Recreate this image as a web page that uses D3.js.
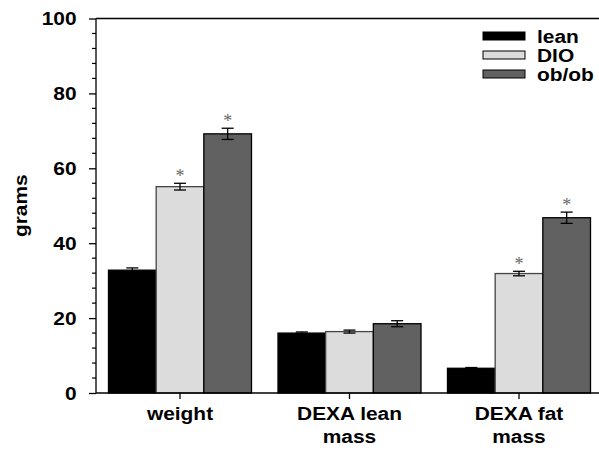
<!DOCTYPE html>
<html>
<head>
<meta charset="utf-8">
<script src="https://cdn.jsdelivr.net/npm/d3@7"></script>
<style>
  body { margin: 0; background: #fff; }
  text { font-family: Arial, "Liberation Sans", sans-serif; font-weight: bold; }
</style>
</head>
<body>
<div id="chart"></div>
<script>
// categories and series
var categories = [["weight"], ["DEXA lean", "mass"], ["DEXA fat", "mass"]];
var seriesNames = ["lean", "DIO", "ob/ob"];
var seriesColors = ["#000000", "#dcdcdc", "#616161"];
var leanValues = [32.8, 16.0, 6.6];
var dioValues = [55.1, 16.4, 31.9];
var obValues = [69.2, 18.5, 46.8];
var leanErr = [0.6, 0.3, 0.2];
var dioErr = [0.9, 0.4, 0.6];
var obErr = [1.5, 0.8, 1.5];
// significance marks (asterisk) per series / category
var dioStar = [true, false, true];
var obStar = [true, false, true];
var yTicks = [0, 20, 40, 60, 80, 100];

var W = 599, H = 454;
var mLeft = 96, mTop = 18.5, mBottom = 393;
var SX = 1.1; // text in the picture is a bit wide

var svg = d3.select("#chart").append("svg")
            .attr("width", W)
            .attr("height", H);

var y = d3.scaleLinear().domain([0, 100]).range([mBottom, mTop]);

// group centers
var x0 = d3.scalePoint().domain(d3.range(categories.length)).range([180, 519]);
var x1 = d3.scaleBand().domain(d3.range(seriesNames.length)).range([-71.5, 71.5]);

var allValues = [leanValues, dioValues, obValues];
var allErr = [leanErr, dioErr, obErr];
var allStar = [[false, false, false], dioStar, obStar];

var bars = [];
categories.forEach(function (c, ci) {
  seriesNames.forEach(function (s, si) {
    bars.push({ c: ci, s: si, v: allValues[si][ci], e: allErr[si][ci], star: allStar[si][ci] });
  });
});

function barX(d) { return x0(d.c) + x1(d.s); }
function barMid(d) { return barX(d) + x1.bandwidth() / 2; }

// bars
svg.selectAll("rect.bar")
   .data(bars)
   .enter().append("rect")
   .attr("class", "bar")
   .attr("x", barX)
   .attr("width", x1.bandwidth())
   .attr("y", function (d) { return y(d.v); })
   .attr("height", function (d) { return y(0) - y(d.v); })
   .attr("fill", function (d) { return seriesColors[d.s]; })
   .attr("stroke", function (d) { return d.s === 1 ? "#444" : "#000"; })
   .attr("stroke-width", 1.3);

// error bars
var eb = svg.selectAll("g.err")
            .data(bars)
            .enter().append("g")
            .attr("class", "err")
            .attr("transform", function (d) { return "translate(" + barMid(d) + ",0)"; });

eb.append("line")
  .attr("x1", 0).attr("x2", 0)
  .attr("y1", function (d) { return y(d.v - d.e); })
  .attr("y2", function (d) { return y(d.v + d.e); })
  .attr("stroke", "#000").attr("stroke-width", 1.3);
eb.append("line")
  .attr("x1", -6).attr("x2", 6)
  .attr("y1", function (d) { return y(d.v + d.e); })
  .attr("y2", function (d) { return y(d.v + d.e); })
  .attr("stroke", "#000").attr("stroke-width", 1.3);
eb.append("line")
  .attr("x1", -6).attr("x2", 6)
  .attr("y1", function (d) { return y(d.v - d.e); })
  .attr("y2", function (d) { return y(d.v - d.e); })
  .attr("stroke", "#000").attr("stroke-width", 1.3);

// asterisks
svg.selectAll("text.star")
   .data(bars.filter(function (d) { return d.star; }))
   .enter().append("text")
   .attr("class", "star")
   .attr("x", barMid)
   .attr("y", function (d) { return y(d.v + d.e) - 1; })
   .attr("text-anchor", "middle")
   .style("font-family", "'Liberation Serif', serif")
   .style("font-weight", "normal")
   .style("font-size", "18px")
   .attr("fill", "#666")
   .text("*");

// y axis
var yAxis = d3.axisLeft(y)
              .tickValues(yTicks)
              .tickSize(7)
              .tickPadding(0)
              .tickFormat(d3.format("d"));
var gy = svg.append("g")
            .attr("transform", "translate(" + mLeft + ",0)")
            .call(yAxis);
gy.select(".domain").attr("stroke-width", 1.3).attr("d", "M0," + mTop + "V" + mBottom);
gy.selectAll(".tick line").attr("stroke-width", 1.3);
gy.selectAll(".tick text")
  .attr("x", -19.5 / SX)
  .attr("transform", "scale(" + SX + ",1)")
  .style("font-size", "19px")
  .style("font-weight", "bold")
  .style("font-family", "Arial, 'Liberation Sans', sans-serif")
  .attr("fill", "#000");

var minor = d3.range(0, 101, 4).filter(function (v) { return v % 20 !== 0; });
svg.selectAll("line.minor")
   .data(minor)
   .enter().append("line")
   .attr("class", "minor")
   .attr("x1", mLeft - 4).attr("x2", mLeft)
   .attr("y1", function (d) { return y(d); })
   .attr("y2", function (d) { return y(d); })
   .attr("stroke", "#000").attr("stroke-width", 1.2);

// top frame line and baseline
svg.append("line")
   .attr("x1", mLeft).attr("x2", W)
   .attr("y1", mTop).attr("y2", mTop)
   .attr("stroke", "#000").attr("stroke-width", 1.3);
svg.append("line")
   .attr("x1", mLeft).attr("x2", W)
   .attr("y1", mBottom).attr("y2", mBottom)
   .attr("stroke", "#000").attr("stroke-width", 1.3);

// category ticks & labels
var cats = svg.selectAll("g.cat")
              .data(categories)
              .enter().append("g")
              .attr("class", "cat")
              .attr("transform", function (d, i) { return "translate(" + x0(i) + "," + mBottom + ")"; });
cats.append("line")
    .attr("y1", 0).attr("y2", 6)
    .attr("stroke", "#000").attr("stroke-width", 1.3);
cats.each(function (d) {
  var t = d3.select(this).append("text")
            .attr("text-anchor", "middle")
            .attr("transform", "scale(" + SX + ",1)")
            .style("font-size", "19px")
            .attr("fill", "#000");
  d.forEach(function (line, li) {
    t.append("tspan").attr("x", 0).attr("y", 27 + li * 23).text(line);
  });
});

// y label
svg.append("text")
   .attr("transform", "translate(27," + ((mTop + mBottom) / 2) + ") rotate(-90) scale(" + SX + ",1)")
   .attr("text-anchor", "middle")
   .style("font-size", "19px")
   .attr("fill", "#000")
   .text("grams");

// legend
var legend = svg.selectAll("g.legend")
                .data(seriesNames)
                .enter().append("g")
                .attr("class", "legend")
                .attr("transform", function (d, i) { return "translate(483," + (36 + i * 19) + ")"; });
legend.append("rect")
      .attr("x", 0).attr("y", -4)
      .attr("width", 42).attr("height", 8)
      .attr("fill", function (d, i) { return seriesColors[i]; })
      .attr("stroke", "#000").attr("stroke-width", 1);
legend.append("text")
      .attr("x", 54 / SX).attr("y", 6.5)
      .attr("transform", "scale(" + SX + ",1)")
      .style("font-size", "19px")
      .attr("fill", "#000")
      .text(function (d) { return d; });
</script>
</body>
</html>
